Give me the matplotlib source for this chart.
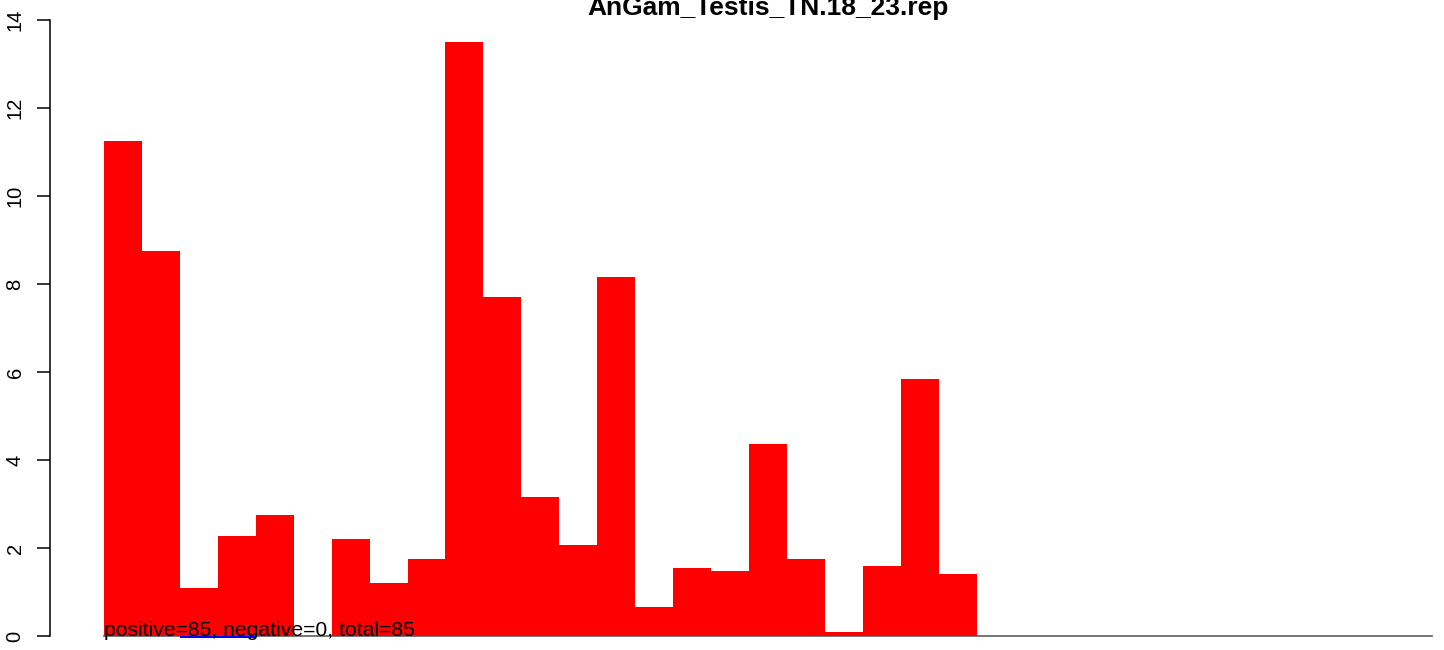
import matplotlib
matplotlib.use("Agg")
import matplotlib.pyplot as plt
import numpy as np

plt.rcParams['font.family'] = ['Liberation Sans', 'DejaVu Sans']

title = "AnGam_Testis_TN.18_23.rep"
note = "positive=85, negative=0, total=85"
yticks = [0, 2, 4, 6, 8, 10, 12, 14]

positive = [11.25, 8.75, 1.1, 2.28, 2.75, 0.0, 2.2, 1.2, 1.75, 13.5, 7.7, 3.16,
            2.07, 8.17, 0.66, 1.55, 1.47, 4.37, 1.75, 0.1, 1.6, 5.83, 1.4,
            0, 0, 0, 0, 0, 0, 0, 0, 0, 0, 0, 0]
negative = [0, 0, -0.045, -0.045, 0, 0, 0, 0, 0, 0, 0, 0,
            0, 0, 0, 0, 0, 0, 0, 0, 0, 0, 0,
            0, 0, 0, 0, 0, 0, 0, 0, 0, 0, 0, 0]

W, H = 1444, 650
fig = plt.figure(figsize=(W / 100, H / 100), dpi=100)
left, right, bottom, top = 104, 1432, 636, 20
ax = fig.add_axes([left / W, 1 - bottom / H, (right - left) / W, (bottom - top) / H])

n = len(positive)
x = np.arange(n)
ax.bar(x, positive, width=1.0, align='edge', color='#ff0000', linewidth=0, zorder=2)
ax.bar(x, negative, width=1.0, align='edge', color='#0000ff', linewidth=0, zorder=2, clip_on=False)
ax.plot([0, n], [0, 0], color='#6a6a6a', lw=1.3, zorder=1, clip_on=False)

ax.set_xlim(0, n)
ax.set_ylim(0, 14)
for s in ['top', 'right', 'bottom']:
    ax.spines[s].set_visible(False)
ax.spines['left'].set_position(('outward', 54 * 0.72))
ax.spines['left'].set_linewidth(1.1)
ax.set_xticks([])
ax.set_yticks(yticks)
ax.set_yticklabels([str(t) for t in yticks], rotation=90, va='center', fontsize=14.5)
ax.tick_params(axis='y', length=13 * 0.72, width=1.1, pad=9)

ax.text(0, 0, note, fontsize=15.2, ha='left', va='baseline', zorder=3, transform=ax.transData)

fig.text(768 / W, 1 - 15 / H, title, fontsize=19, fontweight='bold', ha='center', va='baseline')

fig.savefig('out.png', dpi=100)
